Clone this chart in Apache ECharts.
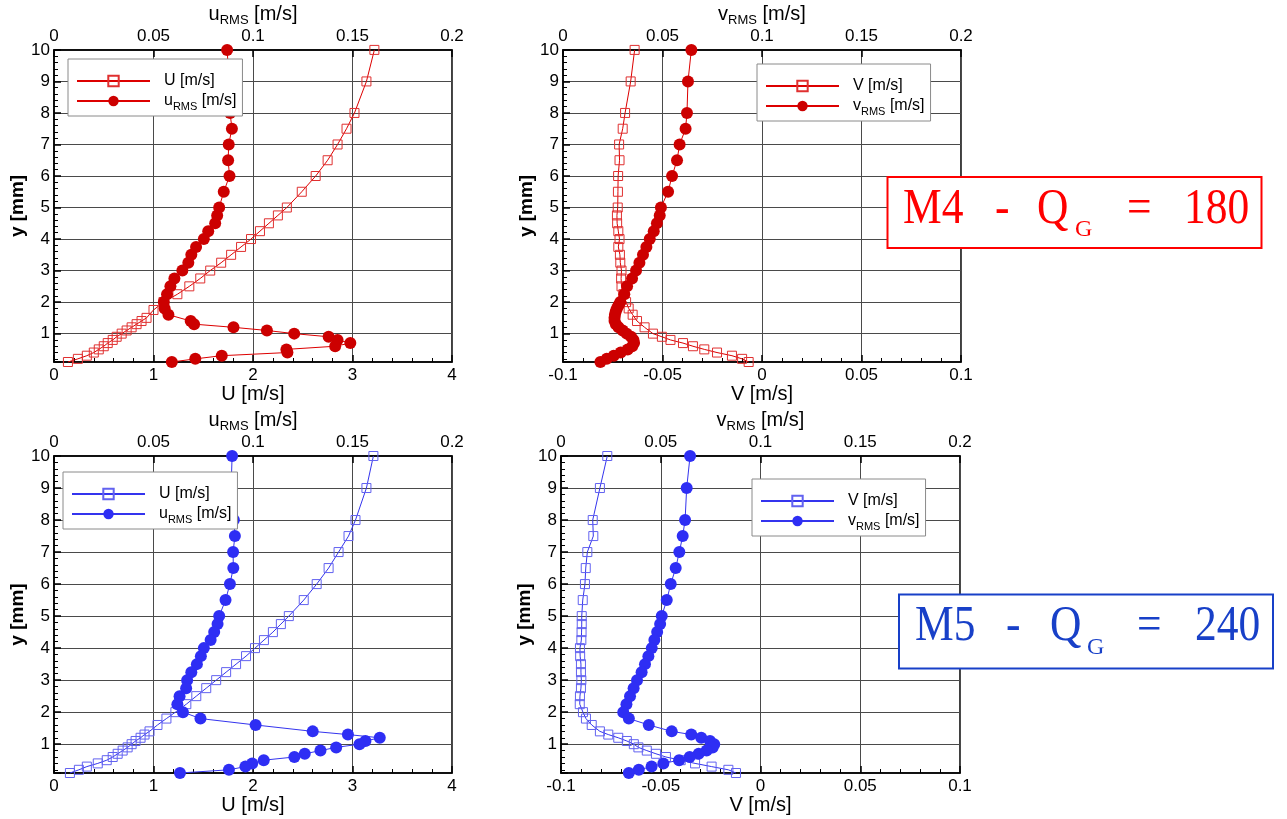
<!DOCTYPE html>
<html>
<head>
<meta charset="utf-8">
<script src="https://cdn.jsdelivr.net/npm/echarts@6/dist/echarts.min.js"></script>
<style>
html,body{margin:0;padding:0;background:#fff}
#chart{width:1287px;height:819px}
</style>
</head>
<body>
<div id="chart"></div>
<script>
// ---- Profiles, case M4 (Q_G = 180) ----
const yM4U = [10,9,8,7.5,7,6.5,6,5.5,5,4.75,4.5,4.25,4,3.75,3.5,3.25,3,2.75,2.5,2.25,2,1.75,1.5,1.4,1.3,1.2,1.1,1,0.9,0.8,0.7,0.6,0.5,0.4,0.3,0.2,0.1];
const m4U = [3.22,3.14,3.02,2.94,2.85,2.75,2.63,2.49,2.34,2.25,2.16,2.07,1.98,1.88,1.78,1.68,1.57,1.47,1.36,1.24,1.10,1.0,0.93,0.88,0.83,0.78,0.73,0.68,0.63,0.59,0.54,0.5,0.45,0.4,0.33,0.24,0.14];

const yM4u = [10,9,8,7.5,7,6.5,6,5.5,5,4.75,4.5,4.25,4,3.75,3.5,3.25,3,2.75,2.5,2.25,2,1.8,1.6,1.4,1.3,1.2,1.1,1,0.9,0.8,0.7,0.6,0.5,0.4,0.3,0.2,0.1];
const m4uRms = [0.087,0.088,0.0885,0.0894,0.0878,0.0875,0.0882,0.0853,0.083,0.082,0.081,0.0775,0.0753,0.0714,0.069,0.0675,0.0645,0.0605,0.0585,0.0568,0.0552,0.0556,0.0575,0.0687,0.0704,0.0902,0.107,0.1207,0.138,0.1425,0.1489,0.1413,0.1168,0.1173,0.0843,0.071,0.0592];

const yM4V = [10,9,8,7.5,7,6.5,6,5.5,5,4.75,4.5,4.25,4,3.75,3.5,3.25,3,2.75,2.5,2.25,2,1.8,1.6,1.4,1.2,1,0.9,0.8,0.7,0.6,0.5,0.4,0.3,0.2,0.1];
const m4V = [-0.064,-0.066,-0.0688,-0.070,-0.0718,-0.0716,-0.0723,-0.0724,-0.0725,-0.0729,-0.0728,-0.0722,-0.0716,-0.0722,-0.0714,-0.0712,-0.0706,-0.0708,-0.0706,-0.0697,-0.0683,-0.067,-0.065,-0.0628,-0.059,-0.0548,-0.0503,-0.046,-0.0397,-0.0347,-0.029,-0.0226,-0.0151,-0.010,-0.0067];

const yM4v = [10,9,8,7.5,7,6.5,6,5.5,5,4.75,4.5,4.25,4,3.75,3.5,3.25,3,2.75,2.5,2.25,2,1.9,1.8,1.7,1.6,1.5,1.4,1.3,1.2,1.1,1,0.9,0.8,0.7,0.6,0.5,0.4,0.3,0.2,0.1];
const m4vRms = [0.0645,0.0628,0.0623,0.0616,0.0586,0.0573,0.0548,0.0528,0.0492,0.0486,0.0472,0.0456,0.0436,0.0419,0.0402,0.0384,0.0367,0.0347,0.0322,0.0308,0.0288,0.0279,0.0271,0.0265,0.0261,0.0259,0.0259,0.0266,0.0279,0.0300,0.0320,0.0342,0.0354,0.0357,0.0348,0.0325,0.0290,0.0255,0.0220,0.0188];

// ---- Profiles, case M5 (Q_G = 240) ----
const yM5U = [10,9,8,7.5,7,6.5,6,5.5,5,4.75,4.5,4.25,4,3.75,3.5,3.25,3,2.75,2.5,2.25,2,1.8,1.6,1.4,1.3,1.2,1.1,1,0.9,0.8,0.7,0.6,0.5,0.4,0.3,0.2,0.1];
const m5U = [3.21,3.14,3.03,2.96,2.86,2.76,2.64,2.51,2.36,2.28,2.2,2.11,2.02,1.93,1.83,1.73,1.63,1.53,1.43,1.33,1.22,1.13,1.04,0.96,0.91,0.87,0.82,0.78,0.74,0.69,0.64,0.59,0.53,0.44,0.33,0.25,0.16];

const yM5u = [10,9,8,7.5,7,6.5,6,5.5,5,4.75,4.5,4.25,4,3.75,3.5,3.25,3,2.75,2.5,2.25,2,1.8,1.6,1.4,1.3,1.2,1.1,1,0.9,0.8,0.7,0.6,0.5,0.4,0.3,0.2,0.1];
const m5uRms = [0.0895,0.089,0.0904,0.0909,0.0900,0.0901,0.0884,0.0862,0.0830,0.0822,0.0805,0.0787,0.0753,0.0738,0.0718,0.0690,0.0669,0.0664,0.0631,0.0620,0.0648,0.0736,0.1013,0.1300,0.1477,0.1637,0.1565,0.1535,0.1418,0.1339,0.1260,0.1208,0.1054,0.0996,0.0962,0.0879,0.0633];

const yM5V = [10,9,8,7.5,7,6.5,6,5.5,5,4.75,4.5,4.25,4,3.75,3.5,3.25,3,2.75,2.5,2.25,2,1.8,1.6,1.4,1.3,1.2,1.1,1,0.9,0.8,0.7,0.6,0.5,0.4,0.3,0.2,0.1];
const m5V = [-0.0768,-0.0805,-0.0841,-0.0838,-0.0868,-0.0876,-0.0880,-0.0891,-0.0896,-0.0896,-0.0897,-0.0898,-0.0905,-0.0904,-0.0900,-0.0900,-0.0898,-0.0900,-0.0905,-0.0906,-0.0890,-0.0875,-0.0846,-0.0805,-0.0763,-0.0713,-0.0670,-0.0635,-0.0612,-0.0570,-0.0524,-0.0474,-0.0400,-0.0328,-0.0245,-0.0161,-0.0123];

const yM5v = [10,9,8,7.5,7,6.5,6,5.5,5,4.75,4.5,4.25,4,3.75,3.5,3.25,3,2.75,2.5,2.25,2,1.8,1.6,1.4,1.3,1.2,1.1,1,0.9,0.8,0.7,0.6,0.5,0.4,0.3,0.2,0.1];
const m5vRms = [0.0647,0.0630,0.0622,0.0610,0.0593,0.0575,0.0550,0.0530,0.0505,0.0497,0.0482,0.0468,0.0455,0.0438,0.0421,0.0404,0.0381,0.0364,0.0346,0.0328,0.0312,0.0340,0.0440,0.0555,0.0653,0.0703,0.0747,0.0768,0.0760,0.0730,0.0690,0.0645,0.0592,0.0513,0.0454,0.0390,0.0340];

// ---- Axis ranges ----
const yRange = [0.1, 10];
const uRange = [0, 4];
const vRange = [-0.1, 0.1];
const rmsRange = [0, 0.2];

const FONT = '"Liberation Sans", Arial, Helvetica, sans-serif';
const SERIF = '"Liberation Serif", "DejaVu Serif", serif';
const RED = {line: '#dd0000', sq: '#e03030', dot: '#cc0000', text: '#ff0000'};
const BLUE = {line: '#3434ee', sq: '#6262f0', dot: '#2e2ef4', text: '#1840c8'};

const legendText = {
  'M4 U': 'U [m/s]', 'M4 uRMS': 'u{s|RMS} [m/s]',
  'M4 V': 'V [m/s]', 'M4 vRMS': 'v{s|RMS} [m/s]',
  'M5 U': 'U [m/s]', 'M5 uRMS': 'u{s|RMS} [m/s]',
  'M5 V': 'V [m/s]', 'M5 vRMS': 'v{s|RMS} [m/s]'
};

const grids = [
  {left: 54, top: 44, width: 398, height: 318},
  {left: 563, top: 44, width: 398, height: 318},
  {left: 54, top: 456, width: 398, height: 317},
  {left: 561, top: 456, width: 399, height: 317}
];

const panels = [
  {bottom: {range: uRange, interval: 1, name: 'U [m/s]'}, top: 'u{s|RMS} [m/s]',
   sq: ['M4 U', m4U, yM4U], dot: ['M4 uRMS', m4uRms, yM4u], c: RED, legend: {left: 68, top: 59}},
  {bottom: {range: vRange, interval: 0.05, name: 'V [m/s]'}, top: 'v{s|RMS} [m/s]',
   sq: ['M4 V', m4V, yM4V], dot: ['M4 vRMS', m4vRms, yM4v], c: RED, legend: {left: 757, top: 64}},
  {bottom: {range: uRange, interval: 1, name: 'U [m/s]'}, top: 'u{s|RMS} [m/s]',
   sq: ['M5 U', m5U, yM5U], dot: ['M5 uRMS', m5uRms, yM5u], c: BLUE, legend: {left: 63, top: 472}},
  {bottom: {range: vRange, interval: 0.05, name: 'V [m/s]'}, top: 'v{s|RMS} [m/s]',
   sq: ['M5 V', m5V, yM5V], dot: ['M5 vRMS', m5vRms, yM5v], c: BLUE, legend: {left: 752, top: 479}}
];

const black = '#000';
const gridLine = {show: true, lineStyle: {color: '#4a4a4a', width: 1}};
const labelStyle = {color: black, fontSize: 17, fontFamily: FONT};

const option = {
  animation: false,
  backgroundColor: '#fff',
  grid: [], xAxis: [], yAxis: [], series: [], legend: [], graphic: []
};

panels.forEach((p, i) => {
  option.grid.push(Object.assign({show: true, borderColor: black, borderWidth: 1.5,
    backgroundColor: '#fff', containLabel: false}, grids[i]));

  // bottom axis: mean velocity
  option.xAxis.push({
    type: 'value', gridIndex: i, position: 'bottom',
    min: p.bottom.range[0], max: p.bottom.range[1], interval: p.bottom.interval,
    name: p.bottom.name, nameLocation: 'middle', nameGap: 17,
    nameTextStyle: {color: black, fontSize: 20, fontFamily: FONT},
    axisLine: {show: true, onZero: false, lineStyle: {color: black, width: 1.5}},
    axisTick: {show: true, inside: true, length: 7, lineStyle: {color: black, width: 1.5}},
    minorTick: {show: true, splitNumber: 5, length: 4, lineStyle: {color: black, width: 1}},
    axisLabel: Object.assign({margin: 5}, labelStyle),
    splitLine: gridLine
  });
  // top axis: RMS fluctuation
  option.xAxis.push({
    type: 'value', gridIndex: i, position: 'top',
    min: rmsRange[0], max: rmsRange[1], interval: 0.05,
    name: p.top, nameLocation: 'middle', nameGap: 22,
    nameTextStyle: {color: black, fontSize: 20, lineHeight: 26, fontFamily: FONT,
      rich: {s: {fontSize: 13, lineHeight: 13, verticalAlign: 'bottom', fontFamily: FONT, color: black}}},
    axisLine: {show: true, onZero: false, lineStyle: {color: black, width: 1.5}},
    axisTick: {show: true, inside: true, length: 7, lineStyle: {color: black, width: 1.5}},
    axisLabel: Object.assign({margin: 5}, labelStyle),
    splitLine: {show: false}
  });
  option.yAxis.push({
    type: 'value', gridIndex: i,
    min: yRange[0], max: yRange[1], splitNumber: 10, minInterval: 1, maxInterval: 1,
    name: 'y [mm]', nameLocation: 'middle', nameGap: 26,
    nameTextStyle: {color: black, fontSize: 19, fontWeight: 'bold', fontFamily: FONT},
    axisLine: {show: true, onZero: false, lineStyle: {color: black, width: 1.5}},
    axisTick: {show: true, inside: true, length: 7, lineStyle: {color: black, width: 1.5}},
    minorTick: {show: true, splitNumber: 5, length: 4, lineStyle: {color: black, width: 1}},
    axisLabel: Object.assign({margin: 4, formatter: v => (v < 0.5 ? '' : String(v))}, labelStyle),
    splitLine: gridLine
  });

  const [sqName, sqX, sqY] = p.sq;
  const [dotName, dotX, dotY] = p.dot;
  option.series.push({
    type: 'line', name: sqName, xAxisIndex: 2 * i, yAxisIndex: i,
    data: sqX.map((v, k) => [v, sqY[k]]),
    symbol: 'rect', symbolSize: 9, clip: false, silent: true, z: 2,
    lineStyle: {color: p.c.line, width: 1},
    itemStyle: {color: 'rgba(255,255,255,0)', borderColor: p.c.sq, borderWidth: 1},
    emphasis: {disabled: true}
  });
  option.series.push({
    type: 'line', name: dotName, xAxisIndex: 2 * i + 1, yAxisIndex: i,
    data: dotX.map((v, k) => [v, dotY[k]]),
    symbol: 'circle', symbolSize: 12, clip: false, silent: true, z: 3,
    lineStyle: {color: p.c.line, width: 1},
    itemStyle: {color: p.c.dot},
    emphasis: {disabled: true}
  });

  option.legend.push({
    left: p.legend.left, top: p.legend.top, orient: 'vertical',
    data: [sqName, dotName], selectedMode: false,
    itemWidth: 73, itemHeight: 13, itemGap: -2,
    padding: [11, 6, 4, 8],
    backgroundColor: '#fff', borderColor: '#8a8a8a', borderWidth: 1,
    formatter: n => legendText[n],
    textStyle: {color: black, fontSize: 16, lineHeight: 22, fontFamily: FONT, padding: [0, 0, 0, 9],
      rich: {s: {fontSize: 11, lineHeight: 11, verticalAlign: 'bottom', fontFamily: FONT, color: black}}}
  });
});

// case captions
function caption(box, c, parts) {
  option.graphic.push({type: 'rect', z: 100, silent: true,
    shape: box, style: {fill: '#fff', stroke: c, lineWidth: 2}});
  parts.forEach(t => option.graphic.push({
    type: 'text', z: 101, silent: true, x: t.x, y: t.y, scaleX: t.sx,
    style: {text: t.text, fill: c, fontSize: t.size, fontFamily: SERIF, align: 'left', verticalAlign: 'middle'}
  }));
}
caption({x: 887.5, y: 177, width: 374, height: 71}, RED.text, [
  {text: 'M4', x: 903, y: 210, size: 50, sx: 0.87},
  {text: '-', x: 995, y: 210, size: 50, sx: 0.87},
  {text: 'Q', x: 1037, y: 210, size: 50, sx: 0.87},
  {text: 'G', x: 1075, y: 229.5, size: 24, sx: 1},
  {text: '=', x: 1127, y: 210, size: 50, sx: 0.87},
  {text: '180', x: 1184, y: 210, size: 50, sx: 0.87}
]);
caption({x: 899, y: 594.5, width: 374, height: 74}, BLUE.text, [
  {text: 'M5', x: 915, y: 627, size: 50, sx: 0.87},
  {text: '-', x: 1006, y: 627, size: 50, sx: 0.87},
  {text: 'Q', x: 1050, y: 627, size: 50, sx: 0.87},
  {text: 'G', x: 1087, y: 648, size: 24, sx: 1},
  {text: '=', x: 1137, y: 627, size: 50, sx: 0.87},
  {text: '240', x: 1195, y: 627, size: 50, sx: 0.87}
]);

const chart = echarts.init(document.getElementById('chart'), null, {renderer: 'canvas'});
chart.setOption(option);
</script>
</body>
</html>
